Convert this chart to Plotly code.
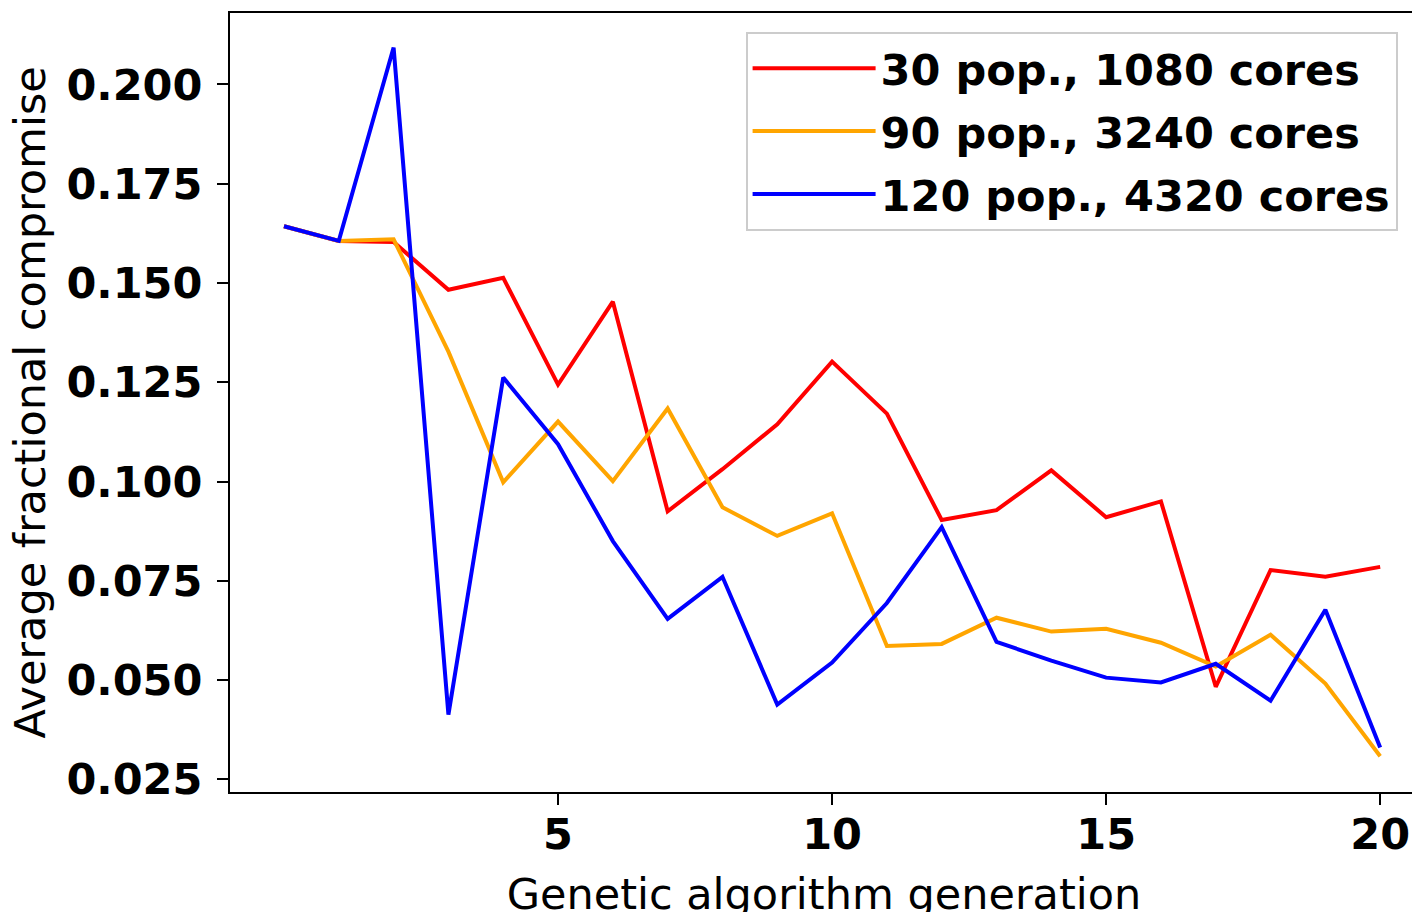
import plotly.graph_objects as go

generations = list(range(0, 21))
pop30 = [0.1643, 0.1606, 0.1603, 0.1483, 0.1513, 0.1244, 0.1453, 0.0925, 0.1031, 0.1144,
         0.1302, 0.1171, 0.0903, 0.0928, 0.1028, 0.0910, 0.0950, 0.0483, 0.0777, 0.0760, 0.0785]
pop90 = [0.1643, 0.1606, 0.1610, 0.1327, 0.0998, 0.1151, 0.1001, 0.1184, 0.0935, 0.0863,
         0.0920, 0.0586, 0.0591, 0.0657, 0.0622, 0.0629, 0.0594, 0.0534, 0.0614, 0.0491, 0.0308]
pop120 = [0.1643, 0.1606, 0.2093, 0.0413, 0.1262, 0.1094, 0.0850, 0.0654, 0.0760, 0.0438,
          0.0544, 0.0694, 0.0885, 0.0596, 0.0549, 0.0506, 0.0494, 0.0541, 0.0448, 0.0677, 0.0330]
series_names = ["30 pop., 1080 cores", "90 pop., 3240 cores", "120 pop., 4320 cores"]
series_colors = ["#ff0000", "#ffa500", "#0000ff"]
x_ticks = [5, 10, 15, 20]
y_ticks = [0.025, 0.050, 0.075, 0.100, 0.125, 0.150, 0.175, 0.200]
y_tick_labels = ["0.025", "0.050", "0.075", "0.100", "0.125", "0.150", "0.175", "0.200"]
x_title = "Genetic algorithm generation"
y_title = "Average fractional compromise"

fig = go.Figure()
for i, (name, vals, col) in enumerate(zip(series_names, [pop30, pop90, pop120], series_colors)):
    fig.add_trace(go.Scatter(x=generations, y=vals, mode="lines", name=name,
                             legendgroup="g%d" % i,
                             line=dict(color=col, width=4)))

font_fam = "DejaVu Sans"
fig.update_layout(
    width=1420, height=912,
    paper_bgcolor="white", plot_bgcolor="white",
    margin=dict(l=222, r=10, t=3, b=128),
    font=dict(family=font_fam, color="black"),
    legend=dict(
        x=0.434, y=0.976, xanchor="left", yanchor="top",
        bgcolor="white", bordercolor="#cccccc", borderwidth=2,
        font=dict(family=font_fam, size=43, weight="bold", color="black"),
        itemwidth=123, tracegroupgap=4,
    ),
    xaxis=dict(
        range=[-0.985, 20.69], tickvals=x_ticks,
        ticks="outside", ticklen=11, tickwidth=1.6, tickcolor="black",
        showline=True, linecolor="black", linewidth=2, mirror=True,
        showgrid=False, zeroline=False,
        tickfont=dict(family=font_fam, size=43, weight="bold"),
        ticklabelstandoff=-8,
        title=dict(text=x_title, font=dict(family=font_fam, size=43), standoff=21),
    ),
    yaxis=dict(
        range=[0.0218, 0.2180], tickvals=y_ticks, ticktext=y_tick_labels,
        ticks="outside", ticklen=11, tickwidth=1.6, tickcolor="black",
        showline=True, linecolor="black", linewidth=2, mirror=True,
        showgrid=False, zeroline=False,
        tickfont=dict(family=font_fam, size=43, weight="bold"),
        ticklabelstandoff=6,
    ),
    annotations=[dict(
        text=y_title, textangle=-90, showarrow=False,
        xref="paper", yref="paper", x=-0.1684, y=0.5,
        xanchor="center", yanchor="middle",
        font=dict(family=font_fam, size=43, color="black"),
    )],
)
fig.write_html("out.html")
